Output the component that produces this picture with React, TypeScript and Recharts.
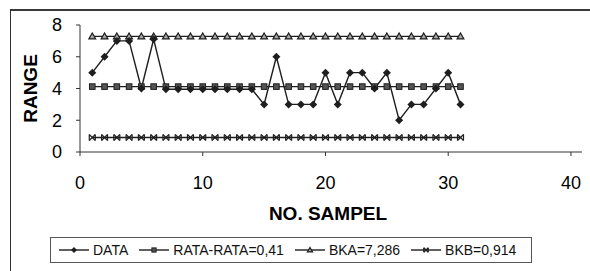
import React from 'react'
import { LineChart, Line, XAxis, YAxis, Legend, Label } from 'recharts'

// nomor sampel dan nilai range
const samples = [1, 2, 3, 4, 5, 6, 7, 8, 9, 10, 11, 12, 13, 14, 15, 16, 17, 18, 19, 20, 21, 22, 23, 24, 25, 26, 27, 28, 29, 30, 31]
const rangeValues = [5, 6, 7, 7, 4, 7.1, 3.95, 3.95, 3.95, 3.95, 3.95, 3.95, 3.95, 3.95, 3, 6, 3, 3, 3, 5, 3, 5, 5, 4, 5, 2, 3, 3, 4, 5, 3]

// garis kontrol
const RATA_RATA = 4.12
const BKA = 7.286
const BKB = 0.914

const xTicks = [0, 10, 20, 30, 40]
const yTicks = [0, 2, 4, 6, 8]

const seriesNames = {
  data: 'DATA',
  mean: 'RATA-RATA=0,41',
  bka: 'BKA=7,286',
  bkb: 'BKB=0,914',
}

const chartData = samples.map((n, i) => ({
  x: n,
  data: rangeValues[i],
  mean: RATA_RATA,
  bka: BKA,
  bkb: BKB,
}))

const FONT = '"Liberation Sans", Arial, sans-serif'
const INK = '#1e1e1e'

type Kind = 'data' | 'mean' | 'bka' | 'bkb'

function Marker({ kind, cx, cy, s = 4 }: { kind: Kind; cx: number; cy: number; s?: number }) {
  if (kind === 'data') {
    return <polygon points={`${cx},${cy - s} ${cx + s},${cy} ${cx},${cy + s} ${cx - s},${cy}`} fill={INK} />
  }
  if (kind === 'mean') {
    const h = s * 0.7
    return <rect x={cx - h} y={cy - h} width={h * 2} height={h * 2} fill="#555" stroke={INK} strokeWidth={1} />
  }
  if (kind === 'bka') {
    const t = s * 0.85
    return (
      <polygon
        points={`${cx},${cy - t} ${cx + t},${cy + t * 0.75} ${cx - t},${cy + t * 0.75}`}
        fill="#aaa"
        stroke={INK}
        strokeWidth={1.2}
      />
    )
  }
  const h = s * 0.75
  return (
    <g stroke={INK} strokeWidth={1.2}>
      <line x1={cx - h} y1={cy - h} x2={cx + h} y2={cy + h} />
      <line x1={cx - h} y1={cy + h} x2={cx + h} y2={cy - h} />
      <line x1={cx - h} y1={cy - h} x2={cx - h} y2={cy + h} />
      <line x1={cx + h} y1={cy - h} x2={cx + h} y2={cy + h} />
    </g>
  )
}

const dotFor = (kind: Kind) => (p: any) =>
  <Marker key={`${kind}-${p.index}`} kind={kind} cx={p.cx} cy={p.cy} />

function LegendBox() {
  const kinds: Kind[] = ['data', 'mean', 'bka', 'bkb']
  return (
    <div
      style={{
        boxSizing: 'border-box',
        width: '100%',
        height: '100%',
        border: '1px solid #555',
        display: 'flex',
        alignItems: 'center',
        padding: '0 8px',
        font: `14px ${FONT}`,
        color: '#111',
        whiteSpace: 'nowrap',
      }}
    >
      {kinds.map((k, i) => (
        <div key={k} style={{ display: 'flex', alignItems: 'center', marginRight: i < 3 ? 11 : 0 }}>
          <svg width={30} height={10} style={{ display: 'block' }}>
            <line x1={0} y1={5} x2={30} y2={5} stroke={INK} strokeWidth={1.4} />
            <Marker kind={k} cx={15} cy={5} s={3} />
          </svg>
          <span style={{ marginLeft: 4 }}>{seriesNames[k]}</span>
        </div>
      ))}
    </div>
  )
}

export default function App() {
  return (
    <div style={{ position: 'absolute', left: 0, top: 0, width: 590, height: 271, background: '#fff', overflow: 'hidden' }}>
      <div
        style={{
          position: 'absolute',
          left: 10,
          top: 9,
          right: -2,
          bottom: -2,
          borderLeft: '1px solid #333',
          borderTop: '2px solid #3a3a3a',
        }}
      />
      <LineChart
        width={590}
        height={271}
        data={chartData}
        margin={{ top: 25, right: 8, bottom: 39, left: 10 }}
        style={{ fontFamily: FONT }}
      >
        <XAxis
          type="number"
          dataKey="x"
          domain={[0, 40.9]}
          ticks={xTicks}
          height={80}
          tickSize={4}
          tickMargin={20}
          axisLine={{ stroke: '#333' }}
          tickLine={{ stroke: '#333' }}
          tick={{ fontSize: 18, fill: '#000', fontFamily: FONT }}
        >
          <Label
            value="NO. SAMPEL"
            position="insideBottom"
            offset={12}
            dx={-3}
            style={{ fontSize: 19, fontWeight: 'bold', fill: '#000', fontFamily: FONT }}
          />
        </XAxis>
        <YAxis
          type="number"
          domain={[0, 8]}
          ticks={yTicks}
          width={70}
          tickSize={4}
          tickMargin={14}
          axisLine={{ stroke: '#333' }}
          tickLine={{ stroke: '#333' }}
          tick={{ fontSize: 18, fill: '#000', fontFamily: FONT }}
        >
          <Label
            content={(p: any) => {
              const vb = p.viewBox
              const cx = vb.x + 20
              const cy = vb.y + vb.height / 2
              return (
                <text
                  x={cx}
                  y={cy}
                  transform={`rotate(-90, ${cx}, ${cy})`}
                  textAnchor="middle"
                  dominantBaseline="central"
                  style={{ fontSize: 19, fontWeight: 'bold', fill: '#000', fontFamily: FONT }}
                >
                  RANGE
                </text>
              )
            }}
          />
        </YAxis>
        <Legend
          layout="horizontal"
          verticalAlign="middle"
          align="center"
          wrapperStyle={{ left: 50, top: 237, width: 482, height: 26 }}
          content={() => <LegendBox />}
        />
        <Line dataKey="bka" name={seriesNames.bka} type="linear" stroke={INK} strokeWidth={1.4} dot={dotFor('bka')} isAnimationActive={false} />
        <Line dataKey="mean" name={seriesNames.mean} type="linear" stroke={INK} strokeWidth={1.4} dot={dotFor('mean')} isAnimationActive={false} />
        <Line dataKey="bkb" name={seriesNames.bkb} type="linear" stroke={INK} strokeWidth={1.4} dot={dotFor('bkb')} isAnimationActive={false} />
        <Line dataKey="data" name={seriesNames.data} type="linear" stroke={INK} strokeWidth={1.4} dot={dotFor('data')} isAnimationActive={false} />
      </LineChart>
    </div>
  )
}
